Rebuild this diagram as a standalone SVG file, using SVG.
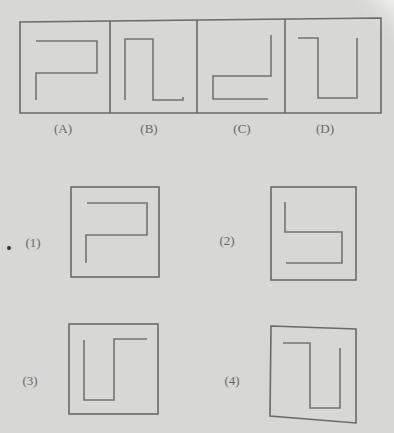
<svg xmlns="http://www.w3.org/2000/svg" width="394" height="433" viewBox="0 0 394 433">
<style>
.ln{fill:none;stroke:#747474;stroke-width:1.6;stroke-linejoin:miter}
.fr{fill:none;stroke:#6a6a6a;stroke-width:1.6}
.lb{font-family:"Liberation Serif",serif;font-size:13px;fill:#686868;text-anchor:middle;dominant-baseline:central}
</style>
<defs>
<linearGradient id="glare" x1="1" y1="0" x2="0.6" y2="0.25">
<stop offset="0" stop-color="#f0f0ee"/>
<stop offset="1" stop-color="#d7d7d5" stop-opacity="0"/>
</linearGradient>
</defs>
<rect width="394" height="433" fill="#d7d7d5"/>
<rect x="300" y="0" width="94" height="60" fill="url(#glare)"/>
<g id="problem-row">
<polygon class="fr" points="20,22 381,18 381,113 20,113"/>
<line class="fr" x1="110" y1="21" x2="110" y2="113"/>
<line class="fr" x1="197" y1="20" x2="197" y2="113"/>
<line class="fr" x1="285" y1="19" x2="285" y2="113"/>
</g>
<g id="fig-A"><polyline class="ln" points="36,41 97,41 97,73 36,73 36,100"/><text class="lb" x="63" y="128">(A)</text></g>
<g id="fig-B"><polyline class="ln" points="125,100 125,39 153,39 153,100 183,100 183,97"/><text class="lb" x="149" y="128">(B)</text></g>
<g id="fig-C"><polyline class="ln" points="271,35 271,76 213,76 213,99 268,99"/><text class="lb" x="242" y="128">(C)</text></g>
<g id="fig-D"><polyline class="ln" points="298,38 318,38 318,98 357,98 357,38"/><text class="lb" x="325" y="128">(D)</text></g>
<g id="opt-1">
<rect class="fr" x="71" y="187" width="88" height="90"/>
<polyline class="ln" points="87,203 147,203 147,235 86,235 86,263"/>
<text class="lb" x="33" y="242">(1)</text>
<circle cx="9" cy="248" r="2" fill="#333"/>
</g>
<g id="opt-2">
<rect class="fr" x="271" y="187" width="85" height="93"/>
<polyline class="ln" points="285,202 285,232 342,232 342,263 286,263"/>
<text class="lb" x="227" y="240">(2)</text>
</g>
<g id="opt-3">
<rect class="fr" x="69" y="324" width="89" height="90"/>
<polyline class="ln" points="84,340 84,400 114,400 114,339 147,339"/>
<text class="lb" x="30" y="380">(3)</text>
</g>
<g id="opt-4">
<polygon class="fr" points="271,326 356,329 356,423 270,416"/>
<polyline class="ln" points="283,343 310,343 310,408 340,408 340,348"/>
<text class="lb" x="232" y="380">(4)</text>
</g>
</svg>
